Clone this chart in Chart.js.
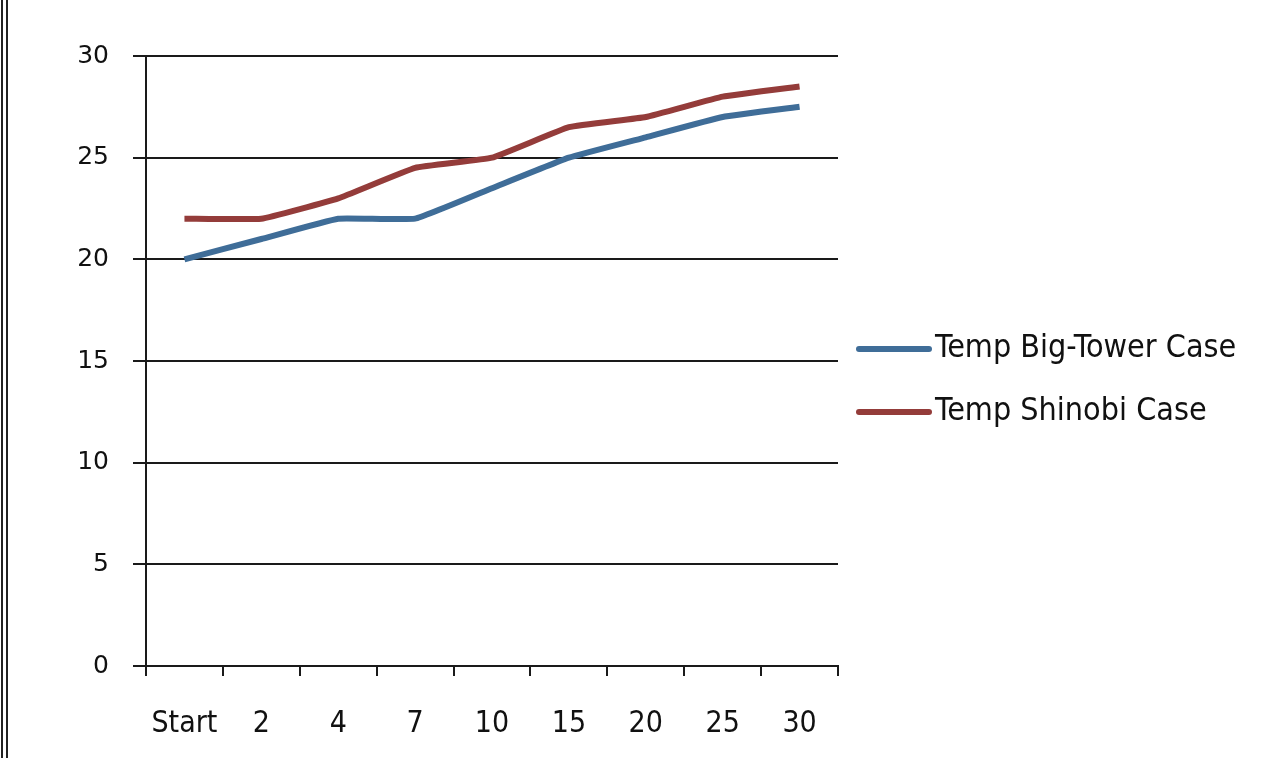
<!DOCTYPE html>
<html>
<head>
<meta charset="utf-8">
<script src="https://cdn.jsdelivr.net/npm/chart.js@4.4.1/dist/chart.umd.min.js"></script>
<style>
  html, body { margin: 0; padding: 0; background: #fff; }
  #marco { position: relative; width: 1280px; height: 758px; }
  #borde { position: absolute; left: 1px; top: 0; width: 0; height: 758px; border-left: 7px double #222; }
  canvas { position: absolute; left: 0; top: 0; }
</style>
</head>
<body>
<div id="marco">
  <canvas id="myChart" width="1280" height="758"></canvas>
  <div id="borde"></div>
</div>
<script>
/* DATOS */
const etiquetas = ["Start", "2", "4", "7", "10", "15", "20", "25", "30"];
const tempBigTower = [20, 21, 22, 22, 23.5, 25, 26, 27, 27.5];
const tempShinobi = [22, 22, 23, 24.5, 25, 26.5, 27, 28, 28.5];
const nombresSeries = ["Temp Big-Tower Case", "Temp Shinobi Case"];
const coloresSeries = ["#3f6d98", "#943c3a"];

/* LEYENDA PROPIA A LA DERECHA (usa los datasets del grafico) */
const leyendaDerecha = {
  id: "leyendaDerecha",
  afterDraw(chart) {
    const ctx = chart.ctx;
    const area = chart.chartArea;
    const x0 = area.right + 21;
    const medio = (area.top + area.bottom) / 2;
    ctx.save();
    ctx.font = "32px 'DejaVu Sans Condensed', 'DejaVu Sans'";
    ctx.textBaseline = "middle";
    chart.data.datasets.forEach((ds, i) => {
      const y = medio - 12 + i * 63;
      ctx.strokeStyle = ds.borderColor;
      ctx.lineWidth = 6;
      ctx.lineCap = "round";
      ctx.beginPath();
      ctx.moveTo(x0, y);
      ctx.lineTo(x0 + 70, y);
      ctx.stroke();
      ctx.fillStyle = "#111";
      ctx.fillText(ds.label, x0 + 76, y);
    });
    ctx.restore();
  }
};

/* GRAFICO */
const datasets = [
  {
    label: nombresSeries[0],
    data: tempBigTower,
    borderColor: coloresSeries[0],
    backgroundColor: coloresSeries[0],
    borderWidth: 6,
    pointRadius: 0,
    tension: 0.1
  },
  {
    label: nombresSeries[1],
    data: tempShinobi,
    borderColor: coloresSeries[1],
    backgroundColor: coloresSeries[1],
    borderWidth: 6,
    pointRadius: 0,
    tension: 0.1
  }
];

const config = {
  type: "line",
  data: { labels: etiquetas, datasets },
  options: {
    responsive: false,
    animation: false,
    layout: { padding: { top: 56, left: 0, right: 442, bottom: 0 } },
    plugins: {
      tooltip: { enabled: false },
      legend: { display: false }
    },
    scales: {
      x: {
        offset: true,
        border: { display: true, color: "#1a1a1a", width: 2 },
        grid: { offset: true, drawOnChartArea: false, drawTicks: true, tickLength: 10, color: "#1a1a1a", lineWidth: 2 },
        ticks: { color: "#111", padding: 30, font: { family: "'DejaVu Sans Condensed', 'DejaVu Sans'", size: 30 } },
        afterFit(escala) { escala.height = 92; }
      },
      y: {
        min: 0,
        max: 30,
        border: { display: true, color: "#1a1a1a", width: 2 },
        grid: { color: "#1a1a1a", lineWidth: 2, tickLength: 13 },
        ticks: { stepSize: 5, color: "#111", padding: 24, font: { family: "'DejaVu Sans'", size: 25 } },
        afterFit(escala) { escala.width = 146; }
      }
    }
  },
  plugins: [leyendaDerecha]
};

const grafico = new Chart(document.getElementById("myChart"), config);
</script>
</body>
</html>
